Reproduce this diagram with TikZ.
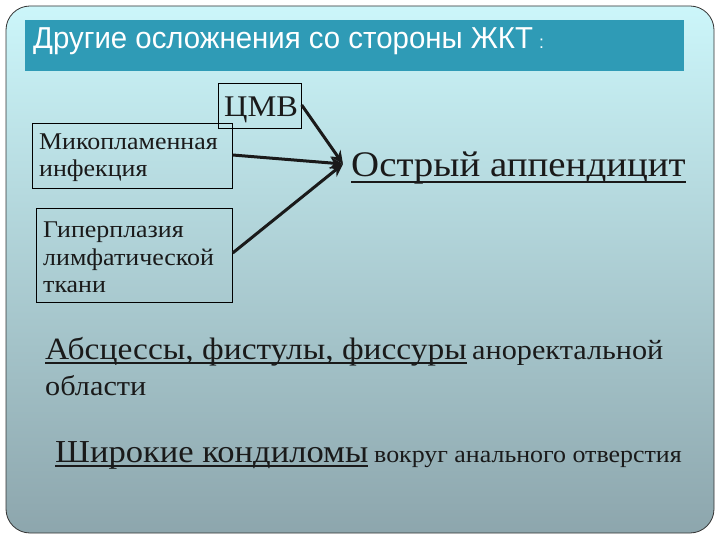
\documentclass[tikz,border=0pt]{standalone}
\usepackage{fontspec}
\setmainfont[FakeStretch=1.08]{Liberation Serif}
\newfontfamily\titlefont[FakeStretch=0.97]{Liberation Sans}
\usetikzlibrary{arrows.meta}
\definecolor{bgtop}{HTML}{CCF6FA}
\definecolor{bgbot}{HTML}{8DA6AD}
\definecolor{titlebar}{HTML}{2F9BB6}
\definecolor{ink}{HTML}{1A1A1A}
\tikzset{
  srcbox/.style={draw=black, line width=0.7pt, inner sep=0pt, anchor=north west},
  boxtext/.style={anchor=base west, inner sep=0pt, text=ink, font=\fontsize{24}{27}\selectfont},
  plain/.style={anchor=base west, inner sep=0pt, text=ink},
  thickarrow/.style={-{Stealth[length=13pt,width=12pt]}, line width=3pt, ink},
  uline/.style={draw=ink, line width=1.6pt}
}
\begin{document}
\begin{tikzpicture}[x=1pt,y=-1pt]
\useasboundingbox (0,0) rectangle (720,540);
\fill[white] (0,0) rectangle (720,540);
\shade[top color=bgtop, bottom color=bgbot, draw=black!80, line width=0.8pt, rounded corners=24pt] (6,6) rectangle (714,533);
\fill[titlebar] (25,20) rectangle (684,71);
\node[anchor=base west, text=white, font=\titlefont\fontsize{30.3}{32}\selectfont, inner sep=0pt] (title) at (33,49) {Другие осложнения со стороны ЖКТ{\fontsize{18}{20}\selectfont\,\,:}};

% boxes
\node[srcbox, minimum width=83pt, minimum height=45pt] (cmv) at (218,83) {};
\node[plain, font=\fontsize{30}{32}\selectfont] (cmvt) at (224,117) {ЦМВ};
\node[srcbox, minimum width=200pt, minimum height=65pt] (myco) at (32,123) {};
\node[boxtext] (myco1) at (39,150) {Микопламенная};
\node[boxtext] (myco2) at (39,177) {инфекция};
\node[srcbox, minimum width=196pt, minimum height=94pt] (hyper) at (36,208) {};
\node[boxtext] (hyp1) at (43,237) {Гиперплазия};
\node[boxtext] (hyp2) at (43,265) {лимфатической};
\node[boxtext] (hyp3) at (43,292) {ткани};

\node[plain, font=\fontsize{36}{40}\selectfont] (app) at (351,177) {Острый аппендицит};
\draw[uline] ([yshift=-5pt]app.base west) -- ([yshift=-5pt]app.base east);
\coordinate (tip) at (343,164);
\draw[thickarrow] ([yshift=-22pt]cmv.north east) -- (tip);
\draw[thickarrow] ([yshift=-32pt]myco.north east) -- (tip);
\draw[thickarrow] ([yshift=-45pt]hyper.north east) -- (tip);

\node[plain, font=\fontsize{31}{34}\selectfont] (abs) at (45,359) {Абсцессы, фистулы, фиссуры};
\draw[uline] ([yshift=-4pt]abs.base west) -- ([yshift=-4pt]abs.base east);
\node[plain, font=\fontsize{28}{30}\selectfont] (ano) at (472,359) {аноректальной};
\node[plain, font=\fontsize{28}{30}\selectfont] (obl) at (45,395) {области};

\node[plain, font=\fontsize{32}{34}\selectfont] (shir) at (55,462) {Широкие кондиломы\ };
\draw[uline] ([yshift=-4pt]shir.base west) -- ([yshift=-4pt]shir.base east);
\node[plain, font=\fontsize{24}{26}\selectfont] (vok) at (374,462) {вокруг анального отверстия};
\end{tikzpicture}
\end{document}
